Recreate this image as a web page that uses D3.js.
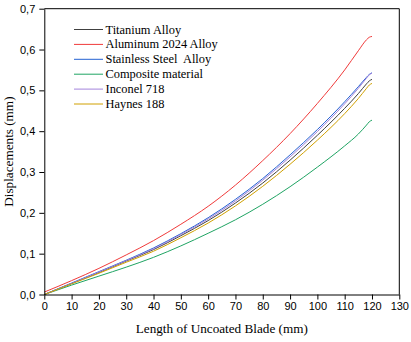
<!DOCTYPE html>
<html><head><meta charset="utf-8">
<script src="https://cdn.jsdelivr.net/npm/d3@7"></script>
<style>body{margin:0;background:#fff}svg{display:block}</style>
</head><body>
<svg id="c" width="411" height="342"></svg>
<script>
const xs = [0,10,20,30,40,50,60,70,80,90,100,110,115,118,119,120];
const titanium  = [0,0.027,0.054,0.082,0.110,0.144,0.181,0.224,0.273,0.329,0.390,0.456,0.492,0.516,0.523,0.527];
const aluminum  = [0.006,0.034,0.064,0.097,0.132,0.172,0.216,0.268,0.328,0.394,0.468,0.550,0.597,0.624,0.630,0.632];
const stainless = [0,0.028,0.056,0.084,0.114,0.149,0.188,0.233,0.284,0.342,0.404,0.472,0.509,0.532,0.539,0.543];
const composite = [0,0.023,0.045,0.067,0.091,0.119,0.150,0.183,0.221,0.264,0.312,0.364,0.393,0.415,0.423,0.427];
const inconel   = [0,0.027,0.055,0.083,0.112,0.147,0.185,0.229,0.280,0.337,0.399,0.467,0.505,0.530,0.538,0.542];
const haynes    = [0,0.026,0.052,0.079,0.106,0.139,0.175,0.217,0.265,0.319,0.378,0.443,0.480,0.505,0.513,0.517];
const seriesNames = ["Titanium Alloy","Aluminum 2024 Alloy","Stainless Steel  Alloy","Composite material","Inconel 718","Haynes 188"];
const seriesValues = [titanium, aluminum, stainless, composite, inconel, haynes];
const colors = ["#404040","#f03a3a","#2462d2","#1fa463","#a383dc","#d0a000"];
const xTicks = [0,10,20,30,40,50,60,70,80,90,100,110,120,130];
const yTicks = [0,0.1,0.2,0.3,0.4,0.5,0.6,0.7];

const SERIF = "'Liberation Serif', 'Times New Roman', serif";
const SANS = "'Liberation Sans', Arial, sans-serif";
const svg = d3.select("#c");
const L=44.3, R=399.3, T=8.7, B=294.5;
const x = d3.scaleLinear().domain([0,130]).range([L,R]);
const y = d3.scaleLinear().domain([0,0.7]).range([B,T]);
const fmt = d => d3.format(".1f")(d).replace(".",",");

svg.append("line").attr("x1",L).attr("x2",R).attr("y1",T).attr("y2",T).attr("stroke","#000");
svg.append("line").attr("x1",R).attr("x2",R).attr("y1",T).attr("y2",B).attr("stroke","#000");

const line = d3.line().x((d,i)=>x(xs[i])).y(d=>y(d)).curve(d3.curveMonotoneX);
seriesValues.forEach((vals,k)=>{
  svg.append("path").datum(vals).attr("d",line).attr("fill","none")
    .attr("stroke",colors[k]).attr("stroke-width",1);
});

const xMinor = d3.range(5,130,10);
const gx = svg.append("g").attr("transform",`translate(0,${B})`);
gx.call(d3.axisBottom(x).tickValues(xMinor).tickSize(3).tickFormat(""));
gx.call(d3.axisBottom(x).tickValues(xTicks).tickSize(5).tickSizeOuter(0).tickPadding(3));
gx.selectAll("text").style("font-family",SANS).style("font-size","11px").attr("fill","#000");

const yMinor = d3.range(0.05,0.7,0.1);
const gy = svg.append("g").attr("transform",`translate(${L},0)`);
gy.call(d3.axisLeft(y).tickValues(yMinor).tickSize(3).tickFormat(""));
gy.call(d3.axisLeft(y).tickValues(yTicks).tickSize(5).tickSizeOuter(0).tickPadding(4).tickFormat(fmt));
gy.selectAll("text").style("font-family",SANS).style("font-size","11px").attr("fill","#000");

svg.append("text").attr("x",(L+R)/2).attr("y",333).attr("text-anchor","middle")
  .style("font-family",SERIF).style("font-size","13.2px").text("Length of Uncoated Blade (mm)");
svg.append("text").attr("transform",`translate(13,${(T+B)/2}) rotate(-90)`).attr("text-anchor","middle")
  .style("font-family",SERIF).style("font-size","13.2px").text("Displacements (mm)");

const lg = svg.append("g");
seriesNames.forEach((n,k)=>{
  const yy = 29.5 + k*14.9;
  lg.append("line").attr("x1",74).attr("x2",103).attr("y1",yy).attr("y2",yy).attr("stroke",colors[k]).attr("stroke-width",1);
  lg.append("text").attr("x",105.5).attr("y",yy+4)
    .style("font-family",SERIF).style("font-size","12.4px").style("white-space","pre").attr("fill","#000").text(n);
});
</script>
</body></html>
